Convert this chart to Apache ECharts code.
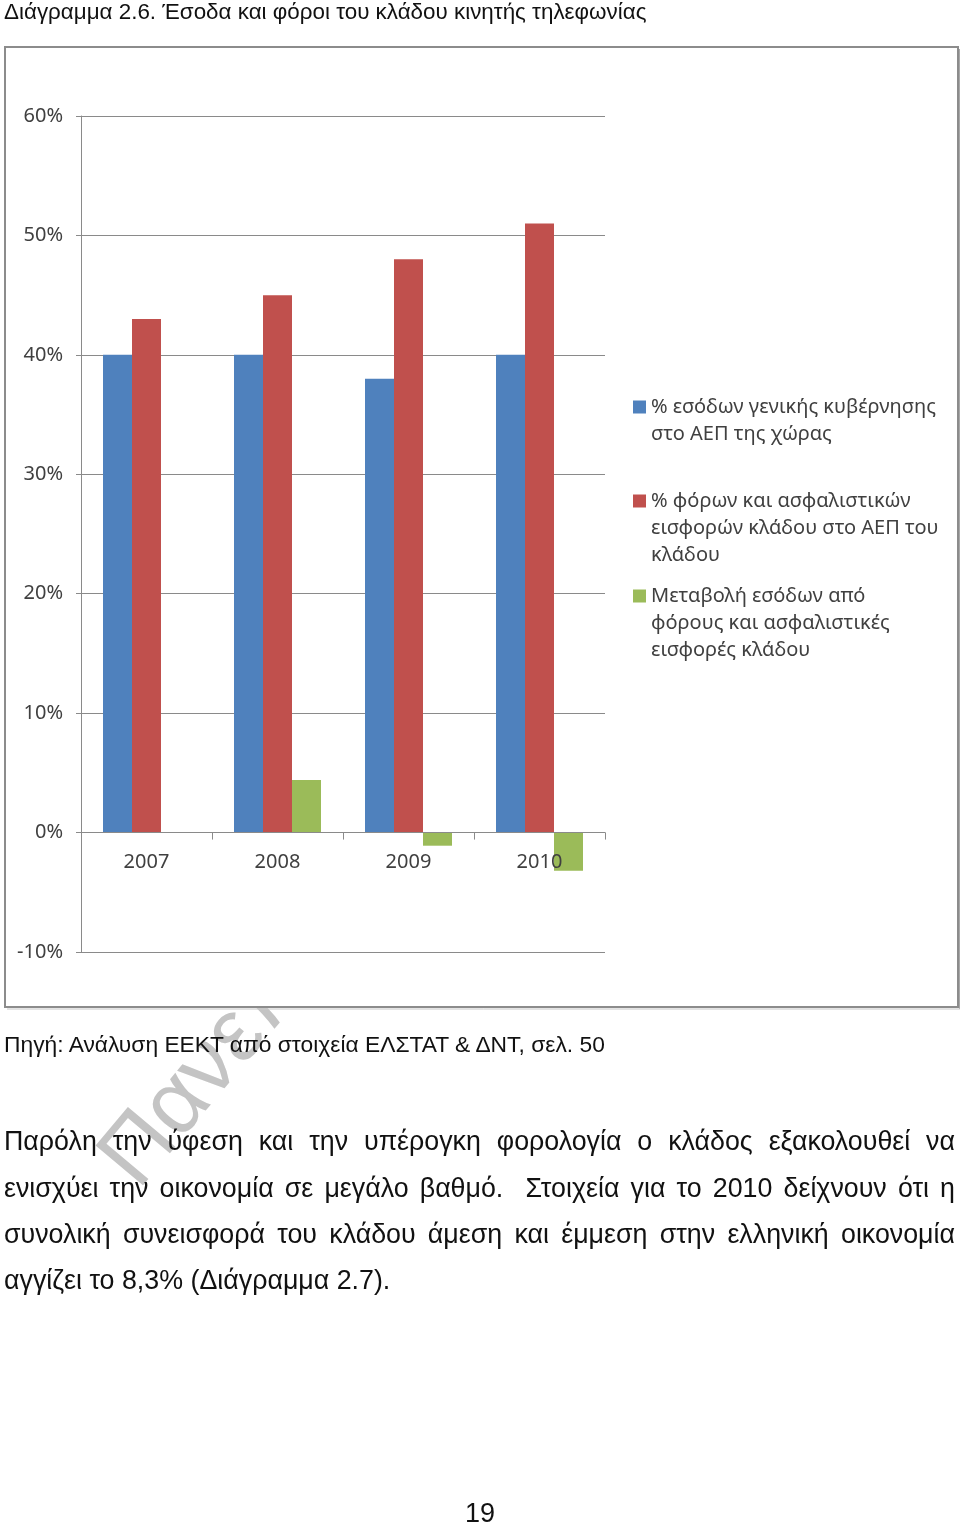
<!DOCTYPE html>
<html>
<head>
<meta charset="utf-8">
<script src="https://cdn.jsdelivr.net/npm/echarts@6/dist/echarts.min.js"></script>
<style>
  html, body { margin: 0; padding: 0; background: #fff; }
  #page { position: relative; width: 960px; height: 1524px; overflow: hidden; background: #fff; }
  #wm { position: absolute; left: 149px; top: 1110px; font-family: "Liberation Sans", Arial, sans-serif;
        font-size: 90px; color: #c4c4c4; white-space: nowrap; transform-origin: 0 100%;
        transform: rotate(-50deg); z-index: 0; line-height: 90px; }
  #chart { position: absolute; left: 0; top: 0; width: 960px; height: 1524px; z-index: 1; }
  .t { position: absolute; font-family: "Liberation Sans", Arial, sans-serif; color: #111; white-space: nowrap; z-index: 2; }
  .p { position: absolute; left: 4px; width: 951px; font-family: "Liberation Sans", Arial, sans-serif;
       font-size: 26.8px; line-height: 32px; color: #111; z-index: 2; text-align: justify; text-align-last: justify; white-space: normal; }
  .p.last { text-align: left; text-align-last: left; }
</style>
</head>
<body>
<div id="page">
  <div id="wm">Πανεπιστήμιο</div>
  <div id="chart"></div>
  <div class="t" style="left:4px; top:0px; font-size:22.4px; line-height:24px;">Διάγραμμα 2.6. Έσοδα και φόροι του κλάδου κινητής τηλεφωνίας</div>
  <div class="t" style="left:4px; top:1032px; font-size:22.8px; line-height:24px;">Πηγή: Ανάλυση ΕΕΚΤ από στοιχεία ΕΛΣΤΑΤ &amp; ΔΝΤ, σελ. 50</div>
  <div class="p" style="top:1125px;">Παρόλη την ύφεση και την υπέρογκη φορολογία ο κλάδος εξακολουθεί να</div>
  <div class="p" style="top:1172px;">ενισχύει την οικονομία σε μεγάλο βαθμό.&nbsp; Στοιχεία για το 2010 δείχνουν ότι η</div>
  <div class="p" style="top:1218px;">συνολική συνεισφορά του κλάδου άμεση και έμμεση στην ελληνική οικονομία</div>
  <div class="p last" style="top:1264px;">αγγίζει το 8,3% (Διάγραμμα 2.7).</div>
  <div class="t" style="left:0; width:960px; text-align:center; top:1497px; font-size:27px; line-height:32px;">19</div>
</div>
<script>
// ---- data ----
const categories = ['2007', '2008', '2009', '2010'];
const seriesNames = [
  '% εσόδων γενικής κυβέρνησης\nστο ΑΕΠ της χώρας',
  '% φόρων και ασφαλιστικών\nεισφορών κλάδου στο ΑΕΠ του\nκλάδου',
  'Μεταβολή εσόδων από\nφόρους και ασφαλιστικές\nεισφορές κλάδου'
];
const govRevenueShare = [40, 40, 38, 40];
const sectorTaxShare = [43, 45, 48, 51];
const sectorTaxChange = [null, 4.4, -1.1, -3.2];
const yMin = -10, yMax = 60, yStep = 10;

const colors = ['#4F81BD', '#C0504D', '#9BBB59'];
const chartFont = '"Noto Sans", "Open Sans", sans-serif';
const labelColor = '#404040';
const gridColor = '#8a8a8a';

const gridTop = 116, gridHeight = 836;
const zeroOffset = -gridHeight * (0 - yMin) / (yMax - yMin);

const chart = echarts.init(document.getElementById('chart'), null, { renderer: 'canvas' });

function legendFor(i, top) {
  return {
    show: true,
    data: [seriesNames[i]],
    orient: 'vertical',
    left: 633,
    top: top,
    padding: 0,
    itemWidth: 13,
    itemHeight: 13,
    icon: 'rect',
    selectedMode: false,
    formatter: function (name) {
      const n = name.split('\n').length;
      return '\n'.repeat(n - 1) + name;
    },
    textStyle: { fontFamily: chartFont, fontSize: 20, color: labelColor, lineHeight: 27 }
  };
}

const option = {
  backgroundColor: 'transparent',
  animation: false,
  color: colors,
  graphic: [
    { type: 'rect', z: -10, shape: { x: 5, y: 47, width: 953, height: 960 },
      style: { fill: '#fff', stroke: '#8c8c8c', lineWidth: 2 } },
    { type: 'line', z: -9, shape: { x1: 960, y1: 49, x2: 960, y2: 1009 },
      style: { stroke: '#a8a8a8', lineWidth: 2 } },
    { type: 'line', z: -9, shape: { x1: 7, y1: 1009, x2: 960, y2: 1009 },
      style: { stroke: '#c8c8c8', lineWidth: 1 } }
  ],
  legend: [
    legendFor(0, 366.5),
    legendFor(1, 433.5),
    legendFor(2, 528.5)
  ],
  grid: { left: 81, top: gridTop, width: 524, height: gridHeight, containLabel: false },
  xAxis: {
    type: 'category',
    data: categories,
    offset: zeroOffset,
    z: 5,
    axisLine: { show: true, onZero: false, lineStyle: { color: gridColor, width: 1 } },
    axisTick: { show: true, length: 7, interval: 0, alignWithLabel: false, lineStyle: { color: gridColor } },
    axisLabel: { margin: 20, fontFamily: chartFont, fontSize: 20, color: labelColor },
    splitLine: { show: false }
  },
  yAxis: {
    type: 'value',
    min: yMin, max: yMax, interval: yStep,
    axisLine: { show: true, lineStyle: { color: gridColor, width: 1 } },
    axisTick: { show: true, length: 5, lineStyle: { color: gridColor } },
    axisLabel: { margin: 18, fontFamily: chartFont, fontSize: 20, color: labelColor, formatter: '{value}%' },
    splitLine: { show: true, lineStyle: { color: gridColor, width: 1 } }
  },
  series: [
    { name: seriesNames[0], type: 'bar', data: govRevenueShare, barWidth: 29, barGap: '0%' },
    { name: seriesNames[1], type: 'bar', data: sectorTaxShare, barWidth: 29, barGap: '0%' },
    { name: seriesNames[2], type: 'bar', data: sectorTaxChange, barWidth: 29, barGap: '0%' }
  ]
};
chart.setOption(option);
</script>
</body>
</html>
